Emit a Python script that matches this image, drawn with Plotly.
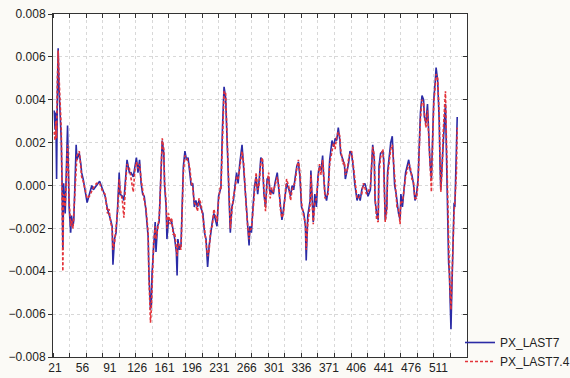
import plotly.graph_objects as go

case_no = [20, 21, 22, 23, 24, 25, 26, 27, 29, 30, 31, 32, 34, 35, 37, 39, 41, 42, 44, 45,
           48, 49, 52, 54, 55, 57, 59, 62, 65, 68, 70, 74, 78, 80, 82, 85, 88, 90, 92, 94,
           95, 97, 99, 101, 103, 104, 107, 109, 111, 113, 116, 118, 121, 123, 125, 127, 129, 131, 133, 135,
           137, 140, 141, 143, 144, 145, 147, 149, 150, 152, 154, 155, 157, 158, 160, 161, 163, 164, 166, 168,
           170, 172, 174, 176, 177, 178, 180, 182, 183, 185, 187, 189, 191, 193, 195, 197, 199, 201, 203, 205,
           207, 210, 212, 214, 216, 218, 220, 222, 224, 226, 228, 230, 232, 233, 235, 237, 239, 240, 242, 244,
           245, 247, 249, 251, 253, 255, 257, 260, 262, 263, 265, 267, 269, 270, 272, 274, 276, 278, 280, 282,
           284, 286, 288, 290, 292, 294, 296, 298, 300, 302, 305, 307, 309, 311, 313, 315, 317, 320, 322, 324,
           326, 328, 330, 332, 334, 336, 339, 341, 342, 344, 346, 347, 348, 350, 351, 353, 355, 357, 359, 361,
           363, 364, 366, 368, 370, 372, 375, 377, 379, 381, 383, 385, 386, 389, 391, 392, 394, 396, 398, 400,
           402, 404, 407, 409, 411, 413, 415, 417, 419, 421, 424, 426, 427, 429, 430, 432, 434, 435, 437, 440,
           441, 443, 445, 446, 448, 450, 452, 453, 455, 457, 458, 460, 462, 463, 465, 467, 469, 471, 473, 475,
           477, 479, 481, 483, 485, 487, 488, 490, 492, 493, 495, 497, 498, 500, 502, 503, 505, 507, 508, 510,
           512, 513, 514, 516, 517, 519, 520, 521, 523, 524, 525, 527, 528, 530, 531, 532, 534, 535]

px_last7 = [0.0035, 0.0026, 0.0034, 0.0003, 0.0043, 0.0064, 0.0046, 0.0037, 0.0021, 0.0001,
            -0.0030, 0.0001, -0.0013, 0.0001, 0.0028, -0.0010, -0.0022, -0.0014, -0.0019, -0.0016,
            0.0019, 0.0012, 0.0015, 0.0010, 0.0006, 0.0003, -0.0002, -0.0008, -0.0004, 0.0000,
            -0.0002, 0.0000, 0.0002, 0.0000, -0.0002, -0.0005, -0.0011, -0.0013, -0.0016, -0.0019,
            -0.0037, -0.0025, -0.0022, -0.0010, 0.0006, -0.0004, -0.0005, -0.0007, 0.0001, 0.0012,
            0.0006, 0.0006, 0.0004, 0.0009, 0.0013, 0.0006, 0.0012, 0.0001, -0.0004, -0.0005,
            -0.0011, -0.0024, -0.0041, -0.0058, -0.0055, -0.0041, -0.0031, -0.0017, -0.0031, -0.0019,
            -0.0017, -0.0007, 0.0018, 0.0021, 0.0015, 0.0000, -0.0010, -0.0025, -0.0016, -0.0016,
            -0.0017, -0.0021, -0.0025, -0.0031, -0.0042, -0.0025, -0.0030, -0.0028, -0.0016, 0.0009,
            0.0016, 0.0012, 0.0013, 0.0007, 0.0000, 0.0001, -0.0010, -0.0007, -0.0010, -0.0007,
            -0.0010, -0.0013, -0.0022, -0.0025, -0.0038, -0.0028, -0.0022, -0.0017, -0.0013, -0.0016,
            -0.0019, -0.0005, -0.0002, -0.0001, 0.0027, 0.0046, 0.0041, 0.0030, 0.0012, -0.0010,
            -0.0022, -0.0010, -0.0007, 0.0000, 0.0006, 0.0001, 0.0010, 0.0019, 0.0009, 0.0000,
            -0.0010, -0.0016, -0.0028, -0.0019, -0.0022, -0.0010, 0.0000, 0.0004, -0.0004, 0.0003,
            0.0013, 0.0012, -0.0004, -0.0010, 0.0003, 0.0004, -0.0004, -0.0002, -0.0004, 0.0001,
            0.0006, -0.0002, -0.0010, -0.0016, -0.0011, -0.0004, 0.0001, -0.0002, -0.0005, 0.0000,
            -0.0002, 0.0004, 0.0009, 0.0011, 0.0004, -0.0010, -0.0013, -0.0019, -0.0035, -0.0014,
            -0.0010, -0.0007, 0.0007, -0.0014, -0.0017, -0.0004, -0.0010, 0.0004, 0.0009, 0.0007,
            0.0014, 0.0006, -0.0004, -0.0007, -0.0002, 0.0012, 0.0021, 0.0018, 0.0022, 0.0021,
            0.0027, 0.0021, 0.0015, 0.0012, 0.0009, 0.0003, 0.0007, 0.0010, 0.0016, 0.0015,
            0.0009, 0.0001, -0.0007, -0.0004, -0.0007, -0.0002, 0.0000, 0.0001, -0.0002, -0.0005,
            -0.0002, 0.0010, 0.0019, 0.0012, -0.0007, -0.0013, -0.0016, 0.0009, 0.0015, 0.0016,
            0.0012, -0.0016, -0.0010, 0.0006, 0.0013, 0.0020, 0.0023, 0.0012, 0.0000, -0.0004,
            -0.0008, -0.0013, -0.0016, -0.0004, -0.0010, 0.0000, 0.0006, 0.0009, 0.0012, 0.0007,
            0.0005, 0.0001, -0.0007, -0.0004, 0.0003, 0.0024, 0.0034, 0.0042, 0.0040, 0.0032,
            0.0029, 0.0038, 0.0026, 0.0012, 0.0003, 0.0018, 0.0040, 0.0049, 0.0055, 0.0049,
            0.0030, 0.0010, -0.0002, 0.0012, 0.0021, 0.0032, 0.0038, 0.0018, -0.0008, -0.0036,
            -0.0041, -0.0067, -0.0051, -0.0019, -0.0008, -0.0010, 0.0015, 0.0032]

px_last7_4 = [0.0025, 0.0021, 0.0030, 0.0022, 0.0050, 0.0063, 0.0052, 0.0040, 0.0026, -0.0006,
              -0.0040, -0.0004, -0.0010, -0.0001, 0.0019, -0.0007, -0.0019, -0.0016, -0.0020, -0.0013,
              0.0008, 0.0014, 0.0016, 0.0007, 0.0004, 0.0002, -0.0001, -0.0006, -0.0005, -0.0002,
              -0.0001, 0.0001, 0.0001, -0.0001, -0.0003, -0.0004, -0.0013, -0.0011, -0.0017, -0.0020,
              -0.0030, -0.0027, -0.0019, -0.0012, 0.0003, -0.0001, -0.0007, -0.0015, 0.0000, 0.0010,
              0.0008, 0.0004, -0.0003, 0.0007, 0.0011, 0.0008, 0.0010, 0.0003, -0.0003, -0.0007,
              -0.0010, -0.0022, -0.0043, -0.0064, -0.0058, -0.0045, -0.0028, -0.0019, -0.0025, -0.0021,
              -0.0015, -0.0009, 0.0015, 0.0022, 0.0017, 0.0002, -0.0008, -0.0020, -0.0013, -0.0018,
              -0.0015, -0.0023, -0.0022, -0.0028, -0.0033, -0.0027, -0.0028, -0.0030, -0.0018, 0.0006,
              0.0014, 0.0013, 0.0011, 0.0009, 0.0002, -0.0001, -0.0008, -0.0009, -0.0012, -0.0006,
              -0.0008, -0.0015, -0.0020, -0.0027, -0.0033, -0.0030, -0.0020, -0.0019, -0.0011, -0.0014,
              -0.0017, -0.0007, -0.0001, -0.0002, 0.0022, 0.0044, 0.0043, 0.0033, 0.0016, -0.0006,
              -0.0020, -0.0012, -0.0005, -0.0002, 0.0004, 0.0003, 0.0008, 0.0016, 0.0011, 0.0002,
              -0.0008, -0.0018, -0.0025, -0.0021, -0.0020, -0.0012, -0.0002, 0.0006, -0.0002, 0.0001,
              0.0011, 0.0013, -0.0002, -0.0012, 0.0001, 0.0006, -0.0006, -0.0001, -0.0003, 0.0000,
              0.0004, 0.0000, -0.0011, -0.0015, -0.0013, -0.0005, 0.0003, -0.0001, -0.0007, -0.0002,
              0.0000, 0.0002, 0.0008, 0.0012, 0.0006, -0.0008, -0.0015, -0.0017, -0.0030, -0.0018,
              -0.0012, -0.0009, 0.0005, -0.0010, -0.0018, -0.0008, -0.0006, 0.0002, 0.0010, 0.0005,
              0.0012, 0.0008, -0.0006, -0.0005, -0.0004, 0.0010, 0.0017, 0.0020, 0.0017, 0.0023,
              0.0025, 0.0023, 0.0017, 0.0010, 0.0011, 0.0005, 0.0006, 0.0012, 0.0015, 0.0016,
              0.0010, 0.0003, -0.0006, -0.0006, -0.0005, -0.0004, 0.0001, -0.0001, -0.0004, -0.0003,
              -0.0001, 0.0012, 0.0018, 0.0014, -0.0005, -0.0016, -0.0017, 0.0005, 0.0013, 0.0017,
              0.0010, -0.0017, -0.0012, 0.0004, 0.0010, 0.0017, 0.0019, 0.0014, 0.0002, -0.0006,
              -0.0010, -0.0011, -0.0018, -0.0007, -0.0008, -0.0002, 0.0004, 0.0007, 0.0010, 0.0009,
              0.0003, 0.0002, -0.0006, -0.0006, 0.0001, 0.0022, 0.0031, 0.0040, 0.0038, 0.0034,
              0.0027, 0.0035, 0.0028, 0.0014, -0.0003, 0.0012, 0.0038, 0.0047, 0.0052, 0.0050,
              0.0033, 0.0014, -0.0003, 0.0010, 0.0024, 0.0038, 0.0044, 0.0026, -0.0004, -0.0030,
              -0.0041, -0.0058, -0.0045, -0.0025, -0.0012, -0.0008, 0.0006, 0.0027]

x_tick_vals = [21, 56, 91, 126, 161, 196, 231, 266, 301, 336, 371, 406, 441, 476, 511]
x_tick_text = [str(v) for v in x_tick_vals]
y_tick_vals = [-0.008, -0.006, -0.004, -0.002, 0.0, 0.002, 0.004, 0.006, 0.008]

X_RANGE = [18.4, 547.5]
Y_RANGE = [-0.008, 0.008]
FONT = "Arial, 'Liberation Sans', sans-serif"

fig = go.Figure()
fig.add_trace(go.Scatter(x=case_no, y=px_last7, mode="lines", name="PX_LAST7",
                         line=dict(color="#2b2ba6", width=1.6)))
fig.add_trace(go.Scatter(x=case_no, y=px_last7_4, mode="lines", name="PX_LAST7.4",
                         line=dict(color="#e3343a", width=1.6, dash="3px,2px")))

grid_col = "#d8d8d8"
minor_dtick = (X_RANGE[1] - X_RANGE[0]) / 25
fig.update_layout(
    width=570, height=378,
    margin=dict(l=53, r=103, t=14, b=21, autoexpand=False),
    paper_bgcolor="#fbfaf6",
    plot_bgcolor="#ffffff",
    font=dict(family=FONT, size=12, color="#222222"),
    showlegend=True,
    legend=dict(xref="container", yref="container", x=460 / 570, xanchor="left",
                y=2 / 378, yanchor="bottom",
                bgcolor="rgba(0,0,0,0)", font=dict(size=12, color="#222222"),
                tracegroupgap=0, itemwidth=30),
    xaxis=dict(range=X_RANGE, tickmode="array", tickvals=x_tick_vals, ticktext=x_tick_text,
               ticks="", showgrid=False, zeroline=False, automargin=False,
               showline=True, linecolor="#333333", linewidth=1, mirror=True,
               minor=dict(tick0=X_RANGE[0], dtick=minor_dtick,
                          ticks="inside", ticklen=4, tickcolor="#333333",
                          showgrid=True, gridcolor=grid_col, griddash="dot", gridwidth=1),
               tickfont=dict(size=12)),
    xaxis2=dict(range=X_RANGE, overlaying="x", side="top", showticklabels=False,
                ticks="", showgrid=False, zeroline=False, showline=False, automargin=False,
                minor=dict(tick0=X_RANGE[0], dtick=minor_dtick,
                           ticks="inside", ticklen=4, tickcolor="#333333", showgrid=False)),
    yaxis=dict(range=Y_RANGE, tickmode="array", tickvals=y_tick_vals, tickformat=".3f",
               ticks="outside", ticklen=4, tickcolor="#333333", automargin=False,
               showgrid=True, gridcolor=grid_col, griddash="dot", gridwidth=1,
               zeroline=False, showline=True, linecolor="#333333", linewidth=1, mirror=True,
               tickfont=dict(size=12)),
    yaxis2=dict(range=Y_RANGE, overlaying="y", side="right", tickmode="array",
                tickvals=y_tick_vals, showticklabels=False, ticks="inside", ticklen=4,
                tickcolor="#333333", showgrid=False, zeroline=False, showline=False,
                automargin=False),
)
# invisible helper trace so the top/right tick axes are drawn
fig.add_trace(go.Scatter(x=[X_RANGE[0]], y=[0], xaxis="x2", yaxis="y2", mode="markers",
                         marker=dict(opacity=0), showlegend=False, hoverinfo="skip"))

fig.write_html("out.html",
               config={"displayModeBar": False},
               post_script="document.body.style.margin='0';document.body.style.padding='0';"
                           "document.body.style.background='#fbfaf6';")
